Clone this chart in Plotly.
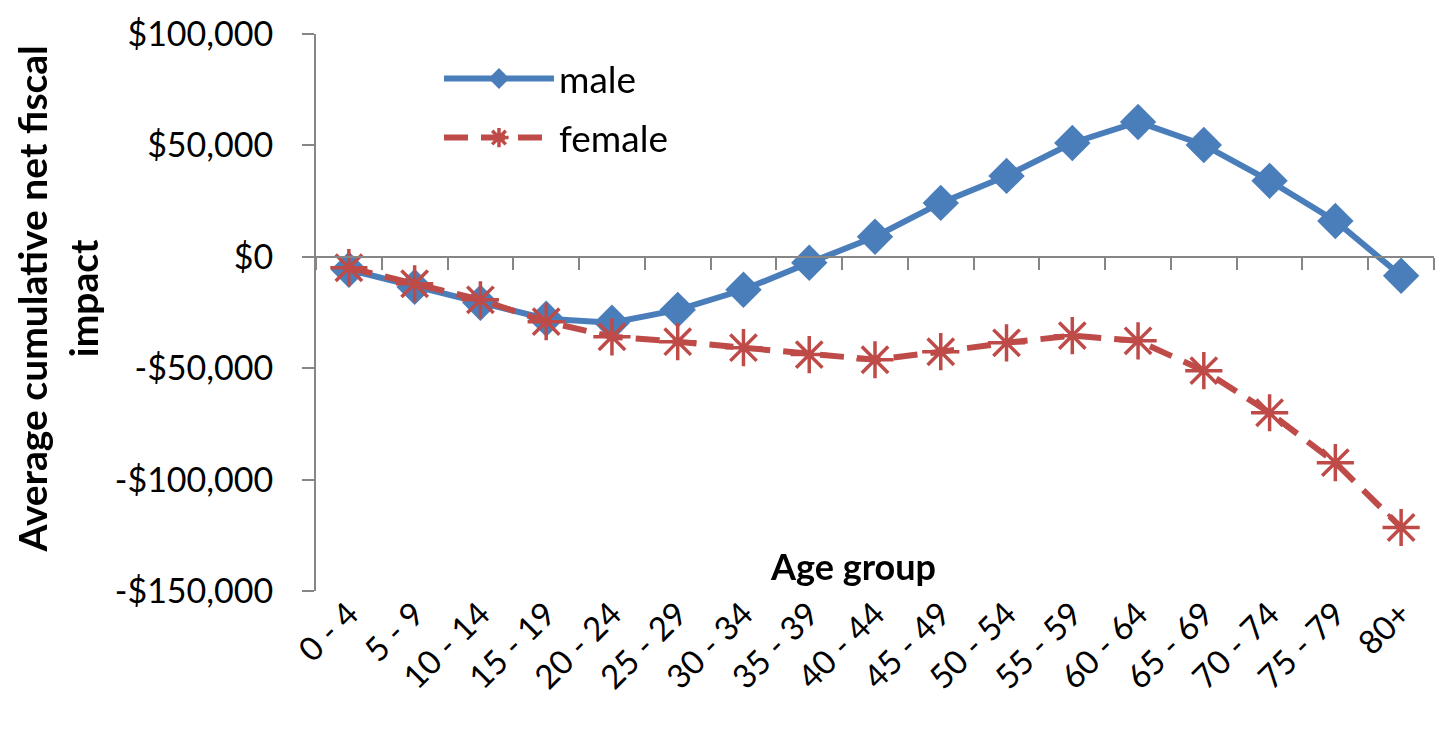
import plotly.graph_objects as go

categories = ["0 - 4", "5 - 9", "10 - 14", "15 - 19", "20 - 24", "25 - 29", "30 - 34",
              "35 - 39", "40 - 44", "45 - 49", "50 - 54", "55 - 59", "60 - 64",
              "65 - 69", "70 - 74", "75 - 79", "80+"]
male = [-5800, -13500, -20600, -27800, -29600, -23800, -14800, -2700, 9000,
        24200, 36300, 51100, 60500, 50200, 34100, 16100, -8500]
female = [-4900, -12100, -19300, -29100, -35900, -38100, -40800, -43900, -46200,
          -42600, -38600, -35400, -37700, -51100, -70000, -92400, -121500]
y_ticks = [100000, 50000, 0, -50000, -100000, -150000]
y_tick_labels = ["$100,000", "$50,000", "$0", "-$50,000", "-$100,000", "-$150,000"]

YMIN, YMAX = -150000, 100000
FONT = "Lato"
AXIS_COLOR = "#868686"

fig = go.Figure()
fig.add_trace(go.Scatter(
    x=categories, y=male, name="male", mode="lines+markers", legendgroup="m",
    line=dict(color="#4A7EBB", width=6),
    marker=dict(symbol="diamond", size=28, color="#4A7EBB"),
))
fig.add_trace(go.Scatter(
    x=categories, y=female, name="female", mode="lines+markers", legendgroup="f",
    line=dict(color="#BE4B48", width=6, dash="24px,13px"),
    marker=dict(symbol="asterisk-open", size=31, line=dict(color="#BE4B48", width=3.5)),
))
# invisible trace for the label axis
fig.add_trace(go.Scatter(
    x=categories, y=male, xaxis="x2", mode="markers", opacity=0,
    showlegend=False, hoverinfo="skip",
))

zero_pos = (0 - YMIN) / (YMAX - YMIN)

fig.update_layout(
    width=1440, height=728,
    margin=dict(l=308, r=14, t=26, b=145, autoexpand=False),
    paper_bgcolor="white", plot_bgcolor="white",
    font=dict(family=FONT, size=34, color="black"),
    showlegend=True,
    legend=dict(x=0.110, y=0.975, xanchor="left", yanchor="top",
                bgcolor="rgba(0,0,0,0)", font=dict(size=37, family=FONT, color="black"),
                tracegroupgap=8, itemwidth=110),
    xaxis=dict(
        type="category", categoryorder="array", categoryarray=categories,
        anchor="free", position=zero_pos, automargin=False,
        showline=True, linecolor=AXIS_COLOR, linewidth=2,
        ticks="outside", tickson="boundaries", ticklen=12, tickcolor=AXIS_COLOR, tickwidth=2,
        showticklabels=False, showgrid=False, zeroline=False,
        range=[-0.5, len(categories) - 0.5],
    ),
    xaxis2=dict(
        type="category", categoryorder="array", categoryarray=categories,
        overlaying="x", anchor="y", side="bottom", matches="x", automargin=False,
        showline=False, ticks="", showgrid=False, zeroline=False,
        tickangle=-45, tickfont=dict(size=33, family=FONT, color="black"),
        ticklabelstandoff=-4,
    ),
    yaxis=dict(
        range=[YMIN, YMAX], tickvals=y_ticks, ticktext=y_tick_labels, automargin=False,
        showline=True, linecolor=AXIS_COLOR, linewidth=2,
        ticks="outside", ticklen=12, tickcolor=AXIS_COLOR, tickwidth=2,
        ticklabelstandoff=22,
        showgrid=False, zeroline=False, tickfont=dict(size=34, family=FONT, color="black"),
    ),
)

fig.add_annotation(
    text="<b>Average cumulative net fiscal<br>impact</b>", xref="paper", yref="paper",
    x=-0.2308, y=0.525, xanchor="center", yanchor="middle", textangle=-90,
    showarrow=False, font=dict(size=39, family=FONT, color="black"), align="center",
)
fig.add_annotation(
    text="<b>Age group</b>", xref="paper", yref="paper",
    x=0.4803, y=0.045, xanchor="center", yanchor="middle",
    showarrow=False, font=dict(size=36, family=FONT, color="black"),
)

fig.write_html("out.html")
